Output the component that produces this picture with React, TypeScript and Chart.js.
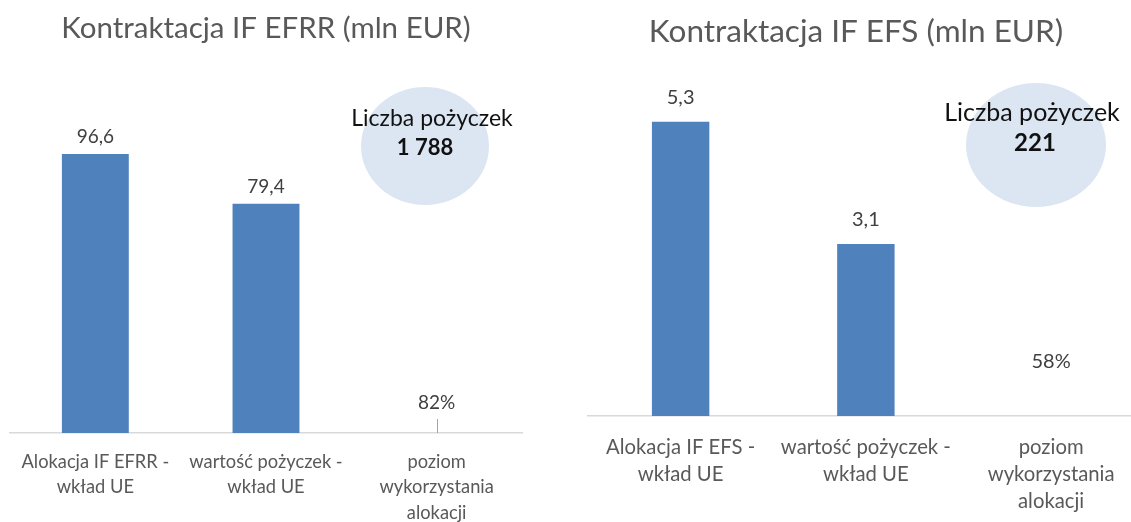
import React, { useEffect, useRef } from "react";
import { Chart, registerables } from "chart.js";

Chart.register(...registerables);

// ---------- data ----------
const efrrTitle = "Kontraktacja IF EFRR (mln EUR)";
const efrrCategories = [
  ["Alokacja IF EFRR -", "wkład UE"],
  ["wartość pożyczek -", "wkład UE"],
  ["poziom", "wykorzystania", "alokacji"],
];
const efrrValues = [96.6, 79.4, null];
const efrrUtilization = 0.82;
const efrrLoanCount = 1788;

const efsTitle = "Kontraktacja IF EFS (mln EUR)";
const efsCategories = [
  ["Alokacja IF EFS -", "wkład UE"],
  ["wartość pożyczek -", "wkład UE"],
  ["poziom", "wykorzystania", "alokacji"],
];
const efsValues = [5.3, 3.1, null];
const efsUtilization = 0.58;
const efsLoanCount = 221;

const loanLabel = "Liczba pożyczek";

// ---------- style ----------
const FONT = "Lato, 'Open Sans', sans-serif";
const BAR = "#4F81BD";
const AXIS = "#D9D9D9";
const GRAY = "#595959";
const LABEL = "#404040";
const BUBBLE = "#DCE6F2";

const fmtNum = (v: number) => v.toFixed(1).replace(".", ",");
const fmtPct = (v: number) => Math.round(v * 100) + "%";
const fmtCount = (v: number) => String(v).replace(/\B(?=(\d{3})+(?!\d))/g, " ");

type Extra = {
  title: string;
  titleX: number;
  titleY: number;
  titleSize: number;
  valueOffset: number;
  valueFont: number;
  pct: number;
  pctOffset: number;
  leader: boolean;
  bubble: { cx: number; cy: number; rx: number; ry: number; y1: number; y2: number; x1: number; x2: number; f1: number; f2: number };
  count: number;
};

const extrasPlugin = {
  id: "extras",
  afterDatasetsDraw(chart: any, _args: any, opts: Extra) {
    const ctx = chart.ctx;
    const meta = chart.getDatasetMeta(0);
    const xs = chart.scales.x;
    const ys = chart.scales.y;
    const data = chart.data.datasets[0].data as (number | null)[];
    ctx.save();
    ctx.textAlign = "center";
    ctx.textBaseline = "middle";
    // title
    ctx.fillStyle = GRAY;
    ctx.font = `${opts.titleSize}px ${FONT}`;
    ctx.fillText(opts.title, opts.titleX, opts.titleY);
    // value labels
    ctx.font = `${opts.valueFont}px ${FONT}`;
    ctx.fillStyle = LABEL;
    data.forEach((v, i) => {
      if (v == null) return;
      const el = meta.data[i];
      ctx.fillText(fmtNum(v), el.x, el.y - opts.valueOffset);
    });
    // utilisation label on the third category
    const xi = xs.getPixelForValue(2);
    const y0 = ys.getPixelForValue(0);
    ctx.fillText(fmtPct(opts.pct), xi, y0 - opts.pctOffset);
    if (opts.leader) {
      ctx.strokeStyle = "#A6A6A6";
      ctx.lineWidth = 1;
      ctx.beginPath();
      ctx.moveTo(Math.round(xi) + 0.5, y0 - 14);
      ctx.lineTo(Math.round(xi) + 0.5, y0);
      ctx.stroke();
    }
    // bubble
    const b = opts.bubble;
    ctx.fillStyle = BUBBLE;
    ctx.beginPath();
    ctx.ellipse(b.cx, b.cy, b.rx, b.ry, 0, 0, Math.PI * 2);
    ctx.fill();
    ctx.fillStyle = "#111111";
    ctx.font = `${b.f1}px ${FONT}`;
    ctx.fillText(loanLabel, b.x1, b.y1);
    ctx.font = `bold ${b.f2}px ${FONT}`;
    ctx.fillText(fmtCount(opts.count), b.x2, b.y2);
    ctx.restore();
  },
};

function makeConfig(p: {
  plotTop: number;
  cats: string[][];
  values: (number | null)[];
  max: number;
  barPct: number;
  padLeft: number;
  padRight: number;
  axisHeight: number;
  tickSize: number;
  tickPad: number;
  tickLH: string;
  extra: Extra;
}): any {
  return {
    type: "bar",
    data: {
      labels: p.cats,
      datasets: [
        {
          data: p.values,
          backgroundColor: BAR,
          barPercentage: p.barPct,
          categoryPercentage: 1,
        },
      ],
    },
    options: {
      responsive: false,
      animation: false,
      layout: { padding: { left: p.padLeft, right: p.padRight, top: p.plotTop, bottom: 0 } },
      plugins: {
        legend: { display: false },
        tooltip: { enabled: false },
        title: { display: false },
        extras: p.extra,
      },
      scales: {
        x: {
          grid: { display: false, drawTicks: false },
          border: { display: true, color: AXIS, width: 1.5 },
          ticks: {
            color: GRAY,
            padding: p.tickPad,
            maxRotation: 0,
            autoSkip: false,
            font: { family: FONT, size: p.tickSize, lineHeight: p.tickLH },
          },
          afterFit: (s: any) => {
            s.height = p.axisHeight;
          },
        },
        y: { display: false, min: 0, max: p.max },
      },
    },
    plugins: [extrasPlugin],
  };
}

function ChartCanvas({ config, style, width, height }: any) {
  const ref = useRef<HTMLCanvasElement>(null);
  useEffect(() => {
    const c = new Chart(ref.current as HTMLCanvasElement, config);
    return () => c.destroy();
  }, []);
  return <canvas ref={ref} width={width} height={height} style={style} />;
}

export default function App() {
  const left = makeConfig({
    plotTop: 86.4,
    cats: efrrCategories,
    values: efrrValues,
    max: 120,
    barPct: 0.392,
    padLeft: 10,
    padRight: 10,
    axisHeight: 89,
    tickSize: 18.3,
    tickPad: 16.2,
    tickLH: "25.5px",
    extra: {
      title: efrrTitle,
      titleX: 266,
      titleY: 28,
      titleSize: 29.5,
      valueOffset: 17,
      valueFont: 19,
      pct: efrrUtilization,
      pctOffset: 30,
      leader: true,
      bubble: { cx: 425, cy: 146, rx: 64, ry: 59, x1: 432, y1: 119, x2: 425, y2: 148, f1: 23, f2: 22 },
      count: efrrLoanCount,
    },
  });
  const right = makeConfig({
    plotTop: 83,
    cats: efsCategories,
    values: efsValues,
    max: 6,
    barPct: 0.31,
    padLeft: 28,
    padRight: 8.25,
    axisHeight: 106,
    tickSize: 20.3,
    tickPad: 17.5,
    tickLH: "27px",
    extra: {
      title: efsTitle,
      titleX: 296,
      titleY: 32,
      titleSize: 31.5,
      valueOffset: 24,
      valueFont: 20,
      pct: efsUtilization,
      pctOffset: 54,
      leader: false,
      bubble: { cx: 476, cy: 145, rx: 70, ry: 62, x1: 472, y1: 113, x2: 475, y2: 143, f1: 25, f2: 24 },
      count: efsLoanCount,
    },
  });
  return (
    <div
      style={{
        position: "fixed",
        left: 0,
        top: 0,
        width: 1131,
        height: 522,
        overflow: "hidden",
        background: "#ffffff",
      }}
    >
      <ChartCanvas config={left} width={532} height={522} style={{ position: "absolute", left: 0, top: 0 }} />
      <ChartCanvas config={right} width={592} height={522} style={{ position: "absolute", left: 560, top: 0 }} />
    </div>
  );
}
